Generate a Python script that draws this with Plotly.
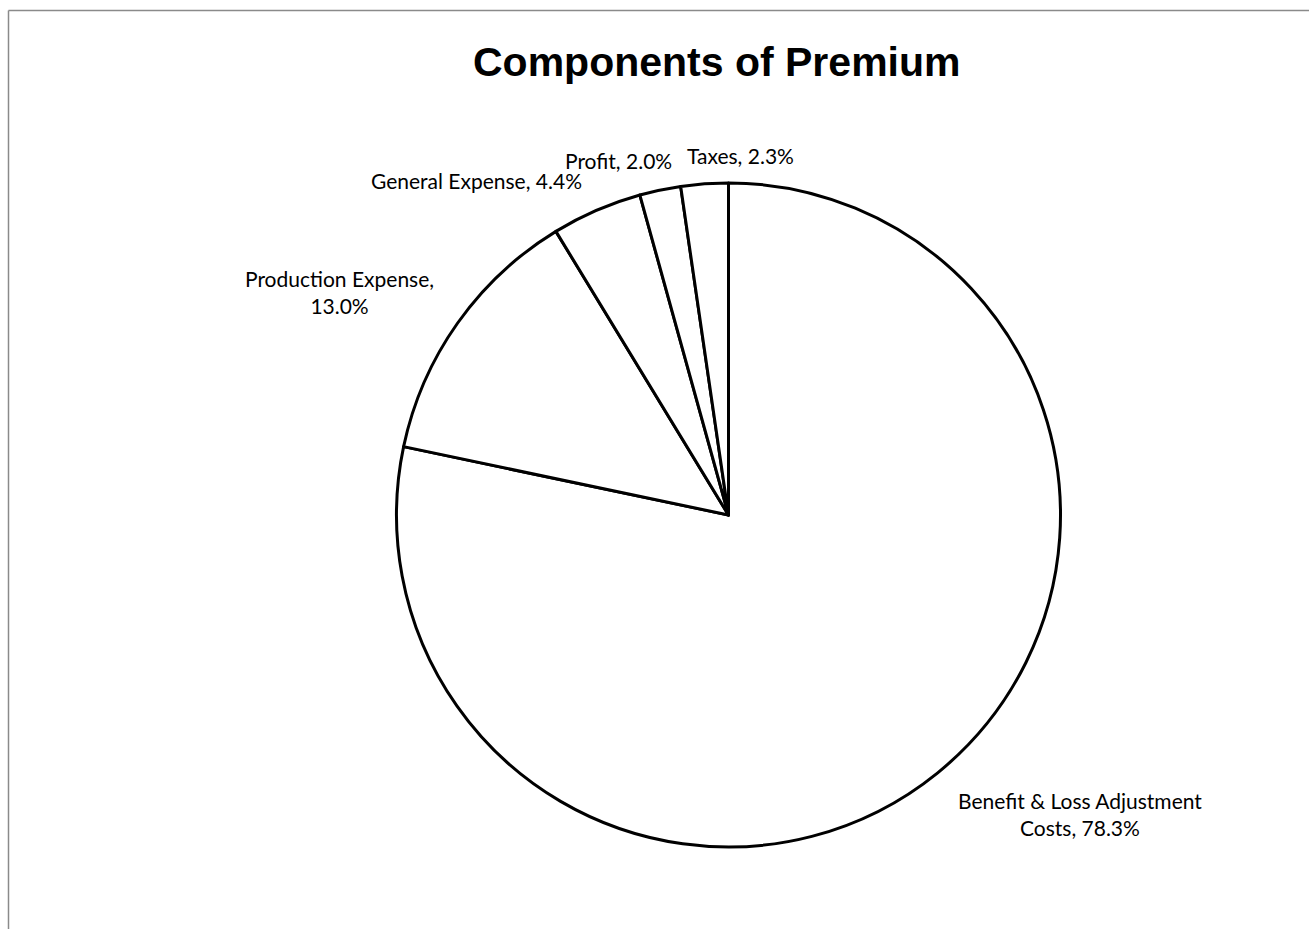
import plotly.graph_objects as go

W, H = 1309, 929

categories = ["Benefit & Loss Adjustment Costs", "Production Expense",
              "General Expense", "Profit", "Taxes"]
values = [78.3, 13.0, 4.4, 2.0, 2.3]
label_texts = ["Benefit & Loss Adjustment<br>Costs, 78.3%",
               "Production Expense,<br>13.0%",
               "General Expense, 4.4%",
               "Profit, 2.0%",
               "Taxes, 2.3%"]
# label centres in pixels (x, y from top)
label_pos = [(1080, 814), (340, 292), (476, 181), (618, 160), (741, 155)]

cx, cy, r = 728.5, 515, 332

fig = go.Figure()
fig.add_trace(go.Pie(
    labels=categories,
    values=values,
    sort=False,
    direction="clockwise",
    rotation=0,
    textinfo="none",
    hoverinfo="none",
    showlegend=False,
    marker=dict(colors=["white"] * len(values), line=dict(color="black", width=3)),
    domain=dict(x=[(cx - r) / W, (cx + r) / W],
                y=[(H - cy - r) / H, (H - cy + r) / H]),
))

annotations = []
for txt, (px, py) in zip(label_texts, label_pos):
    annotations.append(dict(
        text=txt, x=px / W, y=1 - py / H, xref="paper", yref="paper",
        xanchor="center", yanchor="middle", showarrow=False, align="center",
        font=dict(family="Lato, Open Sans, sans-serif", size=21, color="#000")))
annotations.append(dict(
    text="<b>Components of Premium</b>", x=716.5 / W, y=1 - 62 / H,
    xref="paper", yref="paper", xanchor="center", yanchor="middle",
    showarrow=False,
    font=dict(family="Liberation Sans, Arial, sans-serif", size=41, color="#000")))

shapes = [
    dict(type="line", xref="paper", yref="paper", x0=8.5 / W, x1=1.0,
         y0=1 - 10.5 / H, y1=1 - 10.5 / H, line=dict(color="#8a8a8a", width=1.5)),
    dict(type="line", xref="paper", yref="paper", x0=8.5 / W, x1=8.5 / W,
         y0=1 - 10.5 / H, y1=0, line=dict(color="#8a8a8a", width=1.5)),
]

fig.update_layout(
    width=W, height=H,
    margin=dict(l=0, r=0, t=0, b=0),
    paper_bgcolor="white", plot_bgcolor="white",
    annotations=annotations, shapes=shapes,
)

fig.write_html("out.html", config={"displayModeBar": False})
